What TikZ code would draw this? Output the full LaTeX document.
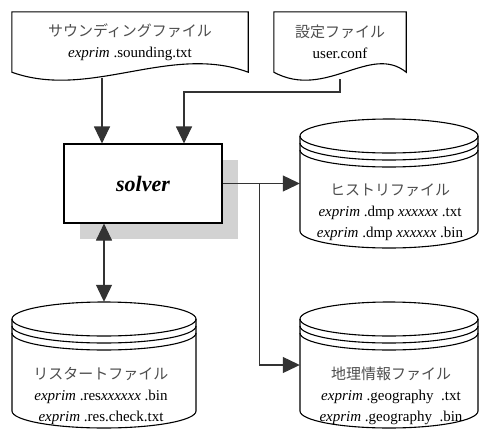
\documentclass[tikz,border=0pt]{standalone}
\usepackage{fontspec}
\setmainfont{Liberation Serif}
\newfontfamily\jpfont{Noto Sans CJK JP}[Color=4D4D4D]
\usetikzlibrary{arrows.meta,shadows}

\begin{document}
\begin{tikzpicture}[
  x=1pt, y=-1pt,
  every node/.style={font=\fontsize{15}{21}\selectfont},
  outline/.style={draw=black, line width=1.1pt},
  docbox/.style={minimum width=#1, minimum height=60pt, inner sep=0pt, align=center},
  disk/.style={minimum width=#1, inner sep=0pt},
  disktext/.style={align=center, inner sep=0pt},
  procbox/.style={draw, line width=1.1pt, fill=white, minimum width=158pt, minimum height=79pt,
    font=\fontsize{22}{26}\selectfont\bfseries\itshape,
    drop shadow={shadow xshift=16pt, shadow yshift=-16pt, fill=gray!35, draw=none, opacity=1}},
  flow/.style={draw=black!80, line width=1.1pt, -{Triangle[length=17pt, width=16pt]}},
  twoway/.style={draw=black!80, line width=1.1pt, {Triangle[length=17pt, width=16pt]}-{Triangle[length=17pt, width=16pt]}}
]
  \useasboundingbox (0,0) rectangle (480,429);

  % Input files
  \node[docbox=236pt] (sounding) at (130,42) {{\jpfont サウンディングファイル}\\\textit{exprim} .sounding.txt};
  \draw[outline] (sounding.south west) -- (sounding.north west) -- (sounding.north east) -- (sounding.south east)
    .. controls +(-78,-29) and +(78,28) .. (sounding.south west) -- cycle;
  \node[docbox=132pt] (userconf) at (340,42) {{\jpfont 設定ファイル}\\user.conf};
  \draw[outline] (userconf.south west) -- (userconf.north west) -- (userconf.north east) -- (userconf.south east)
    .. controls +(-36,-29) and +(52,28) .. (userconf.south west) -- cycle;

  % Solver
  \node[procbox] (solver) at (143,183.5) {solver};

  % History file
  \node[disk=178pt, minimum height=129pt] (history) at (389,183.5) {};
  \draw[outline] (300,136) -- (300,231) arc[start angle=180, end angle=0, x radius=89, y radius=17] -- (478,136);
  \draw[outline] (389,136) ellipse[x radius=89, y radius=17];
  \draw[outline] (300,143) arc[start angle=180, end angle=0, x radius=89, y radius=17];
  \draw[outline] (300,150) arc[start angle=180, end angle=0, x radius=89, y radius=17];
  \node[disktext] (histlabel) at (390,212) {{\jpfont ヒストリファイル}\\\textit{exprim} .dmp \textit{xxxxxx} .txt\\\textit{exprim} .dmp \textit{xxxxxx} .bin};

  % Restart file
  \node[disk=184pt, minimum height=126pt] (restart) at (104,365) {};
  \draw[outline] (12,319) -- (12,411) arc[start angle=180, end angle=0, x radius=92, y radius=17] -- (196,319);
  \draw[outline] (104,319) ellipse[x radius=92, y radius=17];
  \draw[outline] (12,326) arc[start angle=180, end angle=0, x radius=92, y radius=17];
  \draw[outline] (12,333) arc[start angle=180, end angle=0, x radius=92, y radius=17];
  \node[disktext] (restlabel) at (101,396) {{\jpfont リスタートファイル}\\\textit{exprim} .res\textit{xxxxxx} .bin\\\textit{exprim} .res.check.txt};

  % Geography file
  \node[disk=178pt, minimum height=126pt] (geography) at (389,365) {};
  \draw[outline] (300,319) -- (300,411) arc[start angle=180, end angle=0, x radius=89, y radius=17] -- (478,319);
  \draw[outline] (389,319) ellipse[x radius=89, y radius=17];
  \draw[outline] (300,326) arc[start angle=180, end angle=0, x radius=89, y radius=17];
  \draw[outline] (300,333) arc[start angle=180, end angle=0, x radius=89, y radius=17];
  \node[disktext] (geolabel) at (391,396) {{\jpfont 地理情報ファイル}\\\textit{exprim} .geography\ \ .txt\\\textit{exprim} .geography\ \ .bin};

  % Connectors
  \coordinate (sndout) at (102,78);
  \coordinate (confout) at (340,79);
  \draw[flow] (sndout) -- (sndout |- solver.north);
  \draw[flow] (confout) -- ++(0,13) -| ([xshift=41pt]solver.north);
  \draw[flow] (solver.east) -- (history.west);
  \draw[flow] ([xshift=37pt]solver.east) |- (geography.west);
  \draw[twoway] (restart.north) -- (restart.north |- solver.south);
\end{tikzpicture}
\end{document}
